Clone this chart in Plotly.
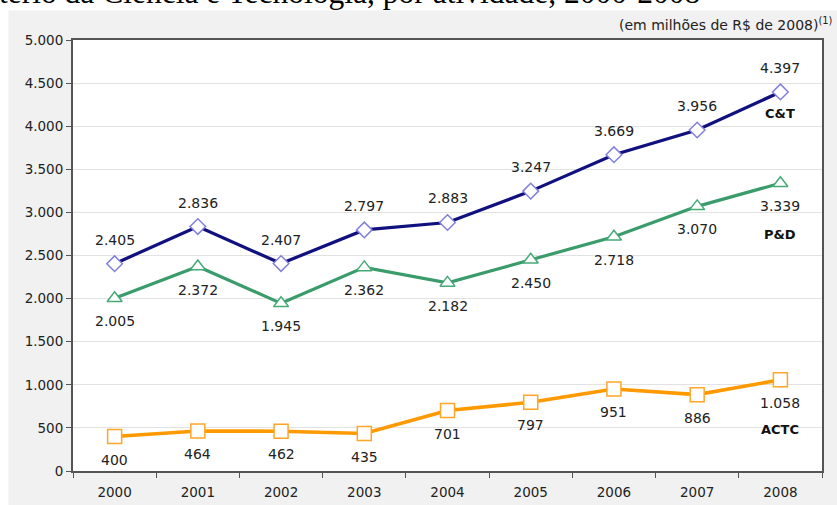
import plotly.graph_objects as go

years = ["2000", "2001", "2002", "2003", "2004", "2005", "2006", "2007", "2008"]
ct = [2405, 2836, 2407, 2797, 2883, 3247, 3669, 3956, 4397]
pd_ = [2005, 2372, 1945, 2362, 2182, 2450, 2718, 3070, 3339]
actc = [400, 464, 462, 435, 701, 797, 951, 886, 1058]
y_ticks = [0, 500, 1000, 1500, 2000, 2500, 3000, 3500, 4000, 4500, 5000]

series = [
    dict(name="C&T", y=ct, color="#10107f", mcolor="#8080dc", symbol="diamond", msize=12, lw=3.2, lab_shift=24, name_shift=-22),
    dict(name="P&D", y=pd_, color="#3a9b6b", mcolor="#45aa76", symbol="triangle-up", msize=13, lw=3.2, lab_shift=-23, name_shift=-51),
    dict(name="ACTC", y=actc, color="#ff9900", mcolor="#ffa628", symbol="square", msize=14, lw=3.6, lab_shift=-23, name_shift=-50),
]

def fmt(v):
    return f"{v:,}".replace(",", ".")

fig = go.Figure()
annotations = []
for s in series:
    fig.add_trace(go.Scatter(
        x=years, y=s["y"], mode="lines+markers", name=s["name"],
        line=dict(color=s["color"], width=s["lw"]),
        marker=dict(symbol=s["symbol"], size=s["msize"], color="white",
                    line=dict(color=s["mcolor"], width=1.5)),
        showlegend=False, hoverinfo="skip",
    ))
    for i, v in enumerate(s["y"]):
        annotations.append(dict(x=i, y=v, xref="x", yref="y", text=fmt(v), showarrow=False,
                                yshift=s["lab_shift"], font=dict(family="DejaVu Sans", size=14, color="#222")))
    annotations.append(dict(x=len(years) - 1, y=s["y"][-1], xref="x", yref="y",
                            text="<b>" + s["name"].replace("&", "&amp;") + "</b>",
                            showarrow=False, yshift=s["name_shift"],
                            font=dict(family="DejaVu Sans", size=13, color="#111")))

W, H = 837, 505
L, R, T, B = 73, 837 - 822, 40, 505 - 471
pw, ph = W - L - R, H - T - B

def px(xp):
    return (xp - L) / pw

def py(yp):
    return (H - B - yp) / ph

# page title (cut off at the top of the picture)
annotations.append(dict(x=px(-3), y=py(-8), xref="paper", yref="paper", xanchor="left", yanchor="middle",
                        text="tério da Ciência e Tecnologia, por atividade, 2000-2008", showarrow=False,
                        font=dict(family="Liberation Serif", size=31.5, color="#000")))
# grey panel edge hiding the title descenders
annotations.append(dict(x=px(8.5), y=py(10.5), xref="paper", yref="paper", xanchor="left", yanchor="top",
                        text=" ", showarrow=False, width=837, height=10, bgcolor="#f1f1f1", borderpad=0,
                        font=dict(size=8)))
annotations.append(dict(x=px(834), y=py(24), xref="paper", yref="paper", xanchor="right", yanchor="middle",
                        text="(em milhões de R$ de 2008)<sup>(1)</sup>", showarrow=False,
                        font=dict(family="DejaVu Sans", size=14, color="#222")))

shapes = [
    dict(type="rect", xref="paper", yref="paper", x0=px(0), x1=px(W), y0=py(10.5), y1=py(0),
         fillcolor="white", line=dict(width=0), layer="below"),
    dict(type="rect", xref="paper", yref="paper", x0=px(0), x1=px(8.5), y0=py(H), y1=py(0),
         fillcolor="white", line=dict(width=0), layer="below"),
]

fig.update_layout(
    width=W, height=H,
    margin=dict(l=L, r=R, t=T, b=B, autoexpand=False),
    paper_bgcolor="#f1f1f1", plot_bgcolor="white",
    separators=",.",
    annotations=annotations, shapes=shapes,
    font=dict(family="DejaVu Sans", size=13, color="#222"),
    xaxis=dict(type="category", tickson="boundaries", ticks="outside", ticklen=5, tickcolor="#555",
               showline=True, linecolor="#555", linewidth=2, mirror=True, showgrid=False,
               range=[-0.5, 8.5], tickfont=dict(size=13.5, color="#222"), ticklabelstandoff=8),
    yaxis=dict(range=[0, 5000], tickvals=y_ticks, ticktext=[fmt(v) for v in y_ticks], ticks="outside", ticklen=5,
               tickcolor="#555", showline=True, linecolor="#555", linewidth=2, mirror=True,
               showgrid=True, gridcolor="#e2e2e2", gridwidth=1, zeroline=False,
               tickfont=dict(size=13.5, color="#222")),
)

fig.write_html("out.html", config={"displayModeBar": False},
               post_script="document.body.style.margin='0';document.body.style.overflow='hidden';")
